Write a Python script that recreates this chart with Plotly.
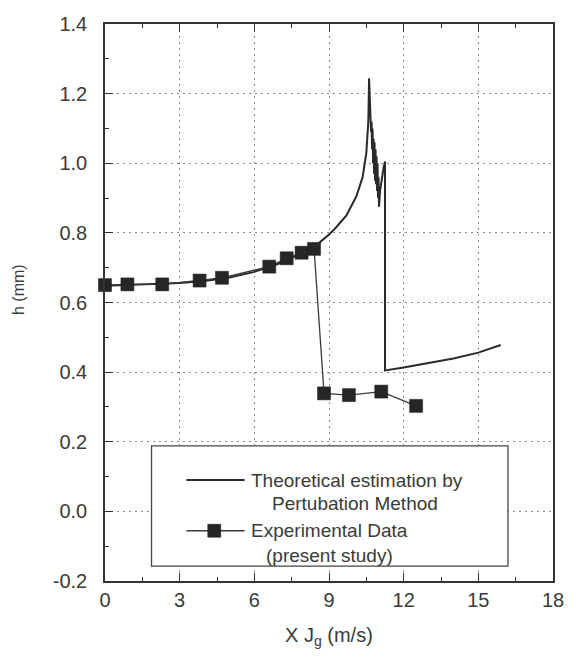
import plotly.graph_objects as go

# Experimental film thickness measurements (present study)
exp_jg = [0.0, 0.9, 2.3, 3.8, 4.7, 6.6, 7.3, 7.9, 8.4, 8.8, 9.8, 11.1, 12.5]
exp_h = [0.65, 0.652, 0.652, 0.663, 0.671, 0.703, 0.727, 0.743, 0.754, 0.339, 0.334, 0.344, 0.303]

# Theoretical estimate from the perturbation method
theo_jg = [0.0, 1.0, 2.0, 3.0, 4.0, 5.0, 6.0, 7.0, 7.5, 8.0, 8.5, 9.0, 9.3, 9.7,
           10.1, 10.35, 10.5, 10.58, 10.61, 10.63, 10.65, 10.67, 10.69, 10.71,
           10.73, 10.75, 10.77, 10.79, 10.81, 10.83, 10.85, 10.87, 10.89, 10.91,
           10.93, 10.95, 10.97, 10.99, 11.01, 11.05, 11.12, 11.2, 11.25, 11.25,
           12.0, 13.0, 14.0, 15.0, 15.9]
theo_h = [0.648, 0.65, 0.652, 0.656, 0.662, 0.672, 0.688, 0.712, 0.728, 0.745, 0.765,
          0.795, 0.817, 0.85, 0.905, 0.96, 1.03, 1.12, 1.244, 1.19, 1.14, 1.16, 1.09,
          1.12, 1.04, 1.1, 1.0, 1.07, 0.97, 1.06, 0.95, 1.04, 0.94, 1.02, 0.92,
          1.0, 0.9, 0.96, 0.875, 0.92, 0.96, 0.99, 1.005, 0.405,
          0.413, 0.425, 0.439, 0.456, 0.478]

x_ticks = [0, 3, 6, 9, 12, 15, 18]
y_ticks = [-0.2, 0.0, 0.2, 0.4, 0.6, 0.8, 1.0, 1.2, 1.4]
y_labels = ["-0.2", "0.0", "0.2", "0.4", "0.6", "0.8", "1.0", "1.2", "1.4"]

legend_lines = ["Theoretical estimation by", "Pertubation Method",
                "Experimental Data", "(present study)"]

INK = "#2a2a2a"
TXT = "#3a3a3a"
FONT = "Liberation Sans, Arial, sans-serif"

fig = go.Figure()

fig.add_trace(go.Scatter(
    x=theo_jg, y=theo_h, mode="lines",
    line=dict(color=INK, width=2),
    showlegend=False, hoverinfo="skip", cliponaxis=False,
))

fig.add_trace(go.Scatter(
    x=exp_jg, y=exp_h, mode="lines+markers",
    line=dict(color="#3a3a3a", width=1.3),
    marker=dict(symbol="square", size=13, color="#262626",
                line=dict(color="#1a1a1a", width=0.5)),
    showlegend=False, hoverinfo="skip", cliponaxis=False,
))

# Legend box built from shapes and text
box = dict(x0=1.87, x1=16.19, y0=-0.157, y1=0.188)
fig.add_shape(type="rect", xref="x", yref="y", layer="above",
              x0=box["x0"], x1=box["x1"], y0=box["y0"], y1=box["y1"],
              fillcolor="white", line=dict(color="#444", width=1.3))
fig.add_shape(type="line", xref="x", yref="y", layer="above",
              x0=3.27, x1=5.61, y0=0.09, y1=0.09,
              line=dict(color=INK, width=2))
fig.add_shape(type="line", xref="x", yref="y", layer="above",
              x0=3.27, x1=5.61, y0=-0.0556, y1=-0.0556,
              line=dict(color="#3a3a3a", width=1.3))
fig.add_shape(type="rect", xref="x", yref="y", layer="above",
              xsizemode="pixel", ysizemode="pixel",
              xanchor=4.39, yanchor=-0.0556, x0=-6.5, x1=6.5, y0=-6.5, y1=6.5,
              fillcolor="#262626", line=dict(color="#1a1a1a", width=0.5))

legend_pos = [(5.79, 0.090), (6.63, 0.0231), (5.79, -0.0556), (6.39, -0.1254)]
for txt, (lx, ly) in zip(legend_lines, legend_pos):
    fig.add_annotation(x=lx, y=ly, xref="x", yref="y", text=txt,
                       showarrow=False, xanchor="left", yanchor="middle",
                       font=dict(family=FONT, size=19, color=TXT))

# Axis titles
fig.add_annotation(x=0.5, y=0, xref="paper", yref="paper", yshift=-55,
                   text="X J<sub>g</sub> (m/s)", showarrow=False,
                   xanchor="center", yanchor="middle",
                   font=dict(family=FONT, size=20, color=TXT))
fig.add_annotation(x=0, y=0.5224, xref="paper", yref="paper", xshift=-87,
                   text="h (mm)", showarrow=False, textangle=-90,
                   xanchor="center", yanchor="middle",
                   font=dict(family=FONT, size=16, color=TXT))

grid = dict(showgrid=True, gridcolor="#8c8c8c", gridwidth=1.2, griddash="2px,4px")

fig.update_xaxes(
    range=[0, 18], tickvals=x_ticks, ticks="inside", ticklen=8, tickwidth=1.3,
    tickcolor="#333", showline=True, linecolor="#333", linewidth=1.5,
    mirror="ticks", zeroline=False,
    minor=dict(dtick=1.5, ticks="inside", ticklen=4, tickwidth=1.2, tickcolor="#333",
               showgrid=False),
    tickfont=dict(family=FONT, size=20, color=TXT),
    **grid,
)
fig.update_yaxes(
    range=[-0.2, 1.4], tickvals=y_ticks, ticktext=y_labels, ticks="inside",
    ticklen=8, tickwidth=1.3, tickcolor="#333", showline=True, linecolor="#333",
    linewidth=1.5, mirror=True, zeroline=False, ticklabelstandoff=12,
    minor=dict(dtick=0.1, ticks="inside", ticklen=4, tickwidth=1.2, tickcolor="#333",
               showgrid=False),
    tickfont=dict(family=FONT, size=20, color=TXT),
    **grid,
)

fig.update_layout(
    width=576, height=656,
    margin=dict(l=105, r=16, t=24, b=75),
    paper_bgcolor="white", plot_bgcolor="white",
    showlegend=False,
)

fig.write_html("out.html")
